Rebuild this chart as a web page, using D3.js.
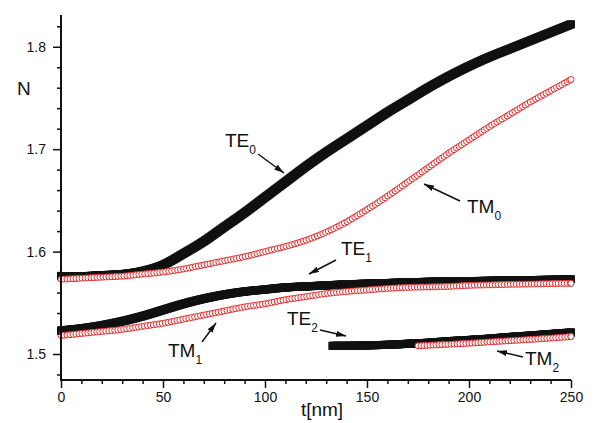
<!DOCTYPE html>
<html>
<head>
<meta charset="utf-8">
<script src="https://cdn.jsdelivr.net/npm/d3@7/dist/d3.min.js"></script>
<style>
  body { margin: 0; background: #fff; }
  svg text { font-family: "Liberation Sans", Arial, sans-serif; fill: #111; }
</style>
</head>
<body>
<div id="chart"></div>
<script>
// thickness t [nm] where the modes were sampled
const tAll = [0, 10, 20, 30, 40, 50, 60, 70, 80, 90, 100, 110, 120, 130, 140, 150, 160, 170, 180, 190, 200, 210, 220, 230, 240, 250];
const te0 = [1.576, 1.576, 1.577, 1.578, 1.581, 1.587, 1.598, 1.610, 1.624, 1.638, 1.653, 1.668, 1.683, 1.697, 1.710, 1.723, 1.736, 1.748, 1.760, 1.771, 1.781, 1.790, 1.798, 1.806, 1.814, 1.822];
const tm0 = [1.573, 1.574, 1.575, 1.576, 1.578, 1.580, 1.583, 1.587, 1.591, 1.595, 1.600, 1.605, 1.611, 1.619, 1.629, 1.641, 1.654, 1.668, 1.682, 1.696, 1.709, 1.722, 1.734, 1.746, 1.757, 1.768];
const te1 = [1.523, 1.525, 1.528, 1.532, 1.537, 1.543, 1.549, 1.554, 1.558, 1.561, 1.563, 1.565, 1.566, 1.567, 1.568, 1.5687, 1.5693, 1.570, 1.5705, 1.571, 1.5712, 1.5715, 1.572, 1.5722, 1.5725, 1.573];
const tm1 = [1.518, 1.520, 1.522, 1.524, 1.527, 1.530, 1.534, 1.538, 1.542, 1.546, 1.549, 1.553, 1.556, 1.559, 1.561, 1.5625, 1.564, 1.565, 1.5655, 1.566, 1.567, 1.5675, 1.568, 1.5683, 1.5687, 1.569];
// higher modes only exist above cutoff
const tTe2 = [133, 140, 150, 160, 170, 180, 190, 200, 210, 220, 230, 240, 250];
const te2 = [1.508, 1.508, 1.5085, 1.509, 1.510, 1.511, 1.5125, 1.5137, 1.515, 1.5166, 1.518, 1.5195, 1.521];
const tTm2 = [175, 180, 190, 200, 210, 220, 230, 240, 250];
const tm2 = [1.508, 1.5085, 1.5095, 1.5105, 1.5118, 1.513, 1.5142, 1.5155, 1.517];

const xMajor = [0, 50, 100, 150, 200, 250];
const yMajor = [1.5, 1.6, 1.7, 1.8];

const width = 607, height = 423;

const svg = d3.select('#chart').append('svg')
  .attr('width', width)
  .attr('height', height);

const x = d3.scaleLinear().domain([0, 250]).range([61, 571]);
const y = d3.scaleLinear().domain([1.4756, 1.831]).range([379, 15]);

// arrow head
svg.append('defs').append('marker')
  .attr('id', 'head')
  .attr('markerUnits', 'userSpaceOnUse')
  .attr('viewBox', '0 0 10 6')
  .attr('refX', 10).attr('refY', 3)
  .attr('markerWidth', 10).attr('markerHeight', 6)
  .attr('orient', 'auto')
  .append('path').attr('d', 'M0,0L10,3L0,6Z').attr('fill', '#111');

const line = d3.line()
  .x(d => x(d[0]))
  .y(d => y(d[1]))
  .curve(d3.curveMonotoneX);

const plot = svg.append('g');

// place markers along the drawn curve, like the dense symbol chains of the original
function markersAlong(ts, ns, step) {
  const p = plot.append('path').attr('d', line(ts.map((t, i) => [t, ns[i]]))).attr('fill', 'none');
  const node = p.node();
  const len = node.getTotalLength();
  const pts = [];
  for (let s = 0; s <= len; s += step) pts.push(node.getPointAtLength(s));
  pts.push(node.getPointAtLength(len));
  p.remove();
  return pts;
}

function squares(ts, ns) {
  const size = 8;
  plot.append('g').selectAll('rect')
    .data(markersAlong(ts, ns, 1))
    .enter().append('rect')
    .attr('x', d => d.x - size / 2)
    .attr('y', d => d.y - size / 2)
    .attr('width', size).attr('height', size)
    .attr('fill', '#111');
}

function circles(ts, ns) {
  plot.append('g').selectAll('circle')
    .data(markersAlong(ts, ns, 3))
    .enter().append('circle')
    .attr('cx', d => d.x).attr('cy', d => d.y)
    .attr('r', 3)
    .attr('fill', '#fff')
    .attr('stroke', '#dd2a2a')
    .attr('stroke-width', 1);
}

squares(tAll, te0);
squares(tAll, te1);
squares(tTe2, te2);
circles(tAll, tm0);
circles(tAll, tm1);
circles(tTm2, tm2);

// axes: long major ticks plus short minor ones
const minorX = d3.range(0, 251, 10).filter(v => v % 50 !== 0);
const minorY = d3.range(1.48, 1.83, 0.02).filter(v => yMajor.every(m => Math.abs(m - v) > 1e-6));

const gx = svg.append('g').attr('transform', 'translate(0,380)');
gx.call(d3.axisBottom(x).tickValues(xMajor).tickSize(8).tickPadding(4).tickSizeOuter(0));
gx.append('g').call(d3.axisBottom(x).tickValues(minorX).tickSize(4).tickFormat('').tickSizeOuter(0))
  .select('.domain').remove();

const gy = svg.append('g').attr('transform', 'translate(61,0)');
gy.call(d3.axisLeft(y).tickValues(yMajor).tickSize(8).tickPadding(7).tickFormat(d3.format('.1f')).tickSizeOuter(0));
gy.append('g').call(d3.axisLeft(y).tickValues(minorY).tickSize(4).tickFormat('').tickSizeOuter(0))
  .select('.domain').remove();

gx.select('.domain').attr('d', 'M60,0H571');
gy.select('.domain').attr('d', 'M0,15V381');

svg.selectAll('.domain').attr('stroke', '#111').attr('stroke-width', 2);
svg.selectAll('.tick line').attr('stroke', '#111').attr('stroke-width', 1.5);
svg.selectAll('.tick text').attr('font-size', 14).attr('fill', '#111')
  .attr('font-family', '"Liberation Sans", Arial, sans-serif');

svg.append('text').attr('x', 17).attr('y', 95).attr('font-size', 19).text('N');
svg.append('text').attr('x', 322).attr('y', 416).attr('font-size', 19)
  .attr('text-anchor', 'middle').text('t[nm]');

// mode labels with subscripts and arrows
const labels = [
  { name: 'TE', sub: '0', x: 225, y: 147, from: [258, 154], to: [284, 173] },
  { name: 'TM', sub: '0', x: 467, y: 213, from: [460, 201], to: [424, 184] },
  { name: 'TE', sub: '1', x: 341, y: 255, from: [336, 260], to: [309, 274] },
  { name: 'TM', sub: '1', x: 168, y: 357, from: [202, 342], to: [216, 323] },
  { name: 'TE', sub: '2', x: 287, y: 325, from: [320, 330], to: [346, 336] },
  { name: 'TM', sub: '2', x: 525, y: 365, from: [523, 357], to: [497, 351] }
];

labels.forEach(l => {
  const t = svg.append('text').attr('x', l.x).attr('y', l.y).attr('font-size', 19);
  t.append('tspan').text(l.name);
  t.append('tspan').attr('font-size', 12).attr('dy', 7).text(l.sub);
  svg.append('line')
    .attr('x1', l.from[0]).attr('y1', l.from[1])
    .attr('x2', l.to[0]).attr('y2', l.to[1])
    .attr('stroke', '#111').attr('stroke-width', 1.5)
    .attr('marker-end', 'url(#head)');
});
</script>
</body>
</html>
